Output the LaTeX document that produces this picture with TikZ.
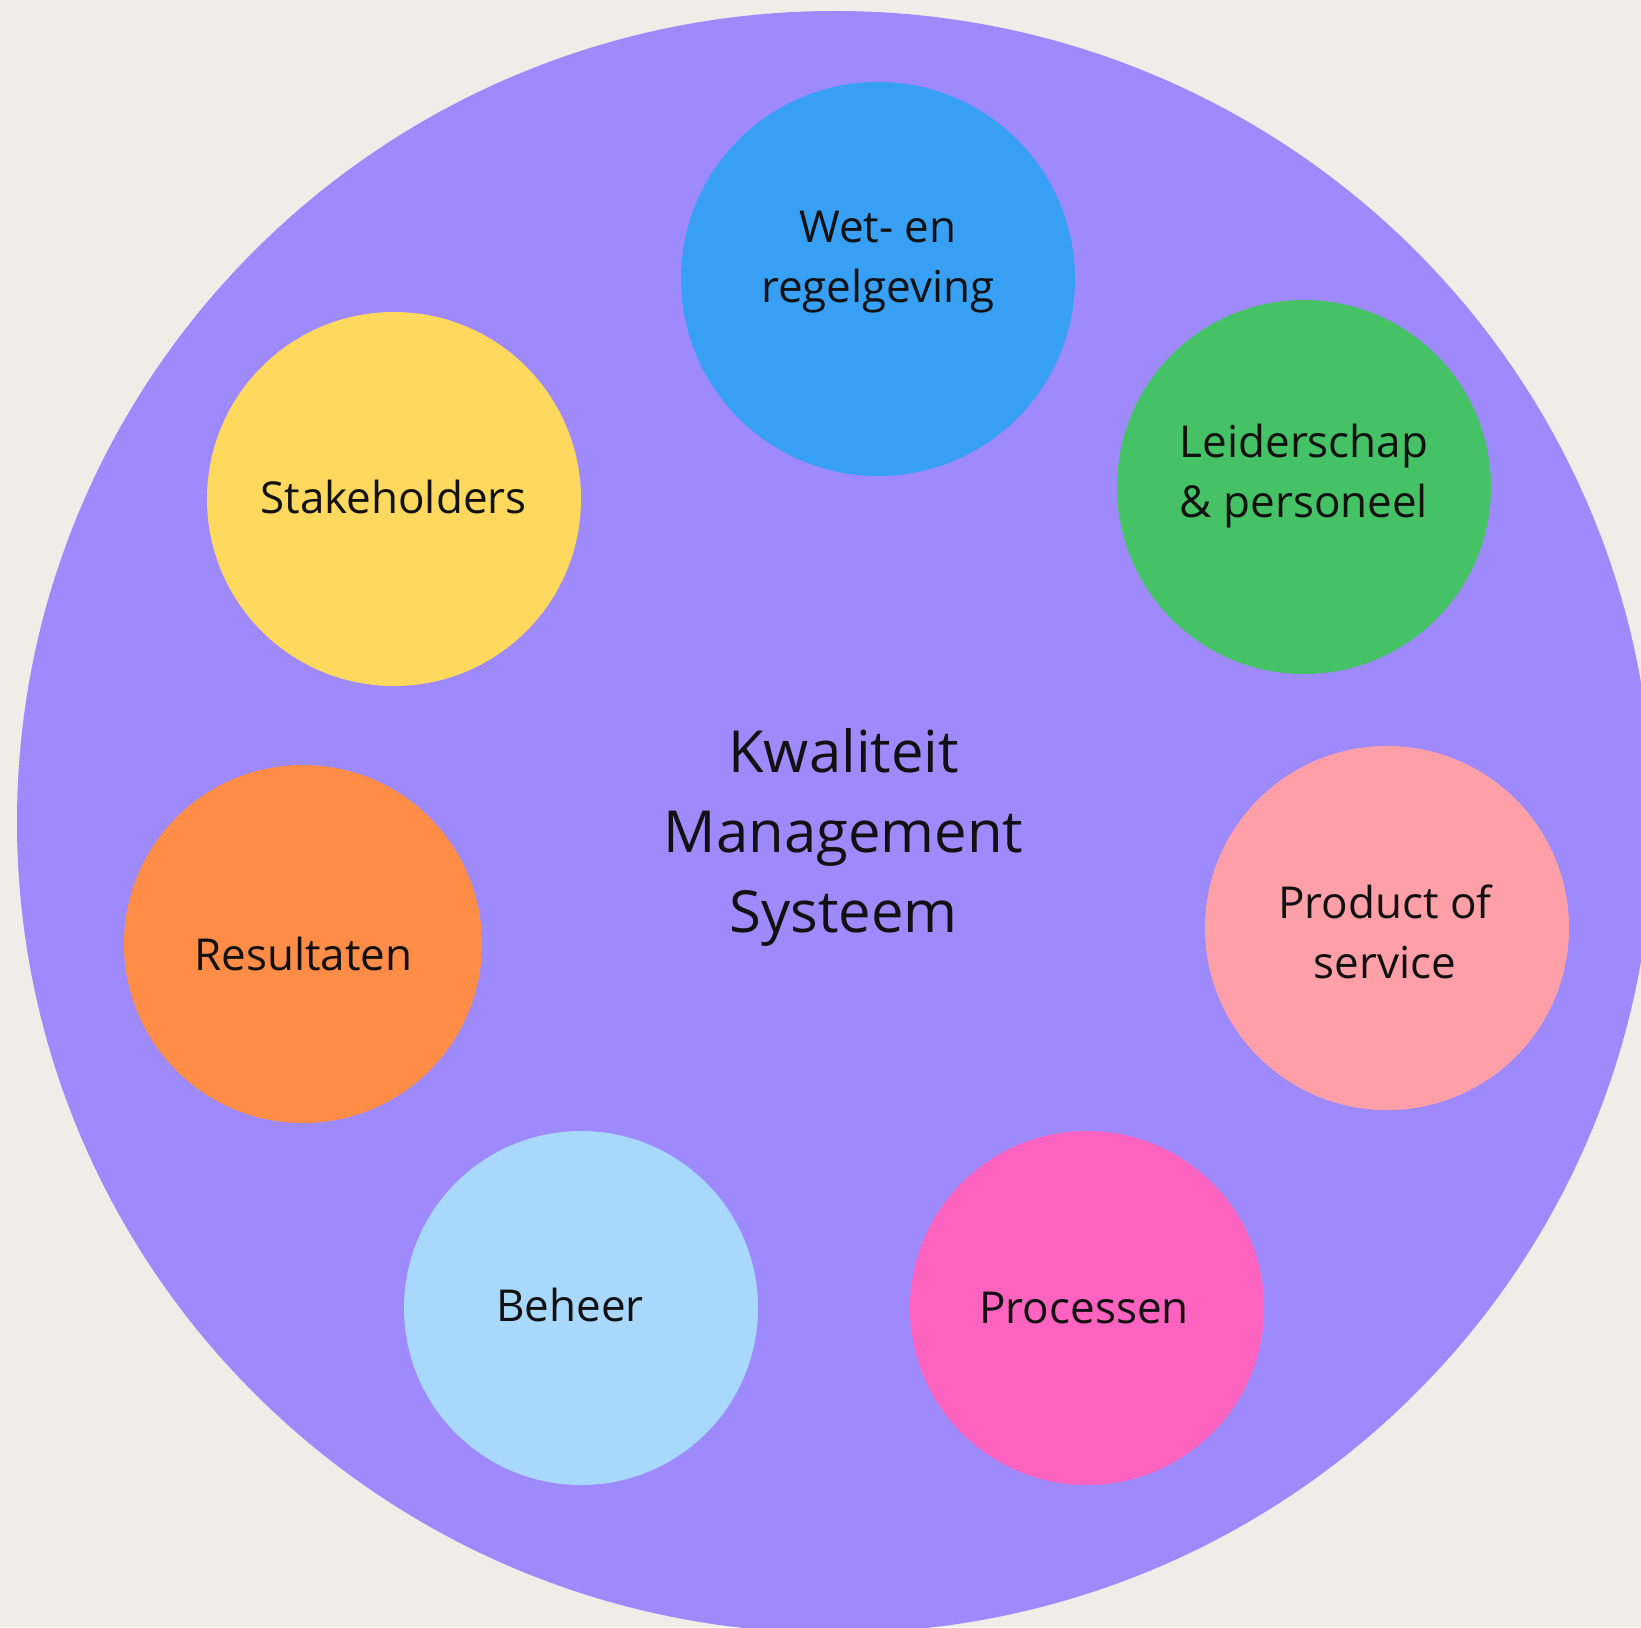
\documentclass[tikz,border=0pt]{standalone}
\usepackage{fontspec}
\setmainfont{Open Sans}
\definecolor{bgc}{HTML}{EEEDE8}
\definecolor{purp}{HTML}{9E8AFD}
\definecolor{cblue}{HTML}{37A0F4}
\definecolor{cgreen}{HTML}{46C266}
\definecolor{cyellow}{HTML}{FFD95E}
\definecolor{corange}{HTML}{FF8D48}
\definecolor{cpink}{HTML}{FFA0A8}
\definecolor{clight}{HTML}{A8D9FD}
\definecolor{cmagenta}{HTML}{FF63C0}
\definecolor{ink}{HTML}{111111}
\begin{document}
\begin{tikzpicture}[x=0.5pt,y=-0.5pt,
  topic/.style={circle,inner sep=0pt,draw=none,minimum size=#1pt},
  lbl/.style={text=ink,align=center,inner sep=0pt,font=\fontsize{22}{30}\selectfont},
  core/.style={text=ink,align=center,inner sep=0pt,font=\fontsize{29}{40}\selectfont}]
\useasboundingbox (0,0) rectangle (1641,1627);
\clip (0,0) rectangle (1641,1627);
\fill[bgc] (0,0) rectangle (1641,1627);
% outer disc
\fill[purp] (835,822) ellipse [x radius=818, y radius=811];
% topic discs (minimum size in pt = radius in px)
\node[topic=197,fill=cblue]    (wet)   at (878,279)  {};
\node[topic=187,fill=cgreen]   (leid)  at (1304,487) {};
\node[topic=187,fill=cyellow]  (stake) at (394,499)  {};
\node[topic=179,fill=corange]  (res)   at (303,944)  {};
\node[topic=182,fill=cpink]    (prod)  at (1387,928) {};
\node[topic=177,fill=clight]   (beh)   at (581,1308) {};
\node[topic=177,fill=cmagenta] (proc)  at (1087,1308) {};
% labels
\node[lbl] (wett)   at (878,262)   {Wet- en\\regelgeving};
\node[lbl] (leidt)  at (1304,476)  {Leiderschap\\\& personeel};
\node[lbl] (staket) at (393.5,496.5) {Stakeholders};
\node[lbl] (rest)   at (303.5,953.5) {Resultaten};
\node[lbl] (prodt)  at (1385,932)  {Product of\\service};
\node[lbl] (beht)   at (570,1304.5) {Beheer};
\node[lbl] (proct)  at (1084,1308) {Processen};
\node[core] (kms)   at (843.6,837.5) {Kwaliteit\\Management\\Systeem};
\end{tikzpicture}
\end{document}
